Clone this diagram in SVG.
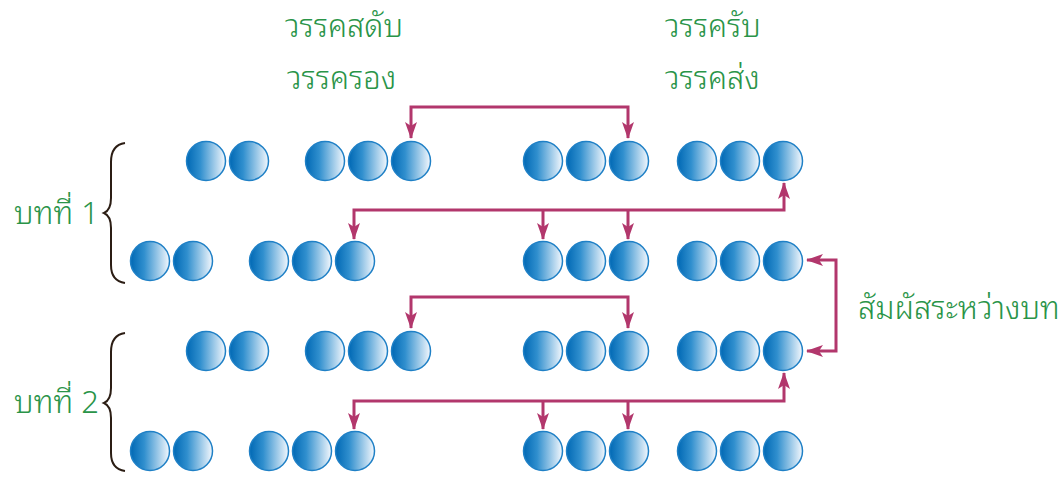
<svg xmlns="http://www.w3.org/2000/svg" width="1063" height="481" viewBox="0 0 1063 481">
<style>
.lbl{font-family:"Noto Sans Thai Looped","Noto Sans Thai","Noto Sans","DejaVu Sans",sans-serif;font-size:31px;font-weight:300;fill:#2a9448}
.ball{fill:url(#bg);stroke:#1f80c6;stroke-width:1.5}
.conn{fill:none;stroke:#b2376c;stroke-width:3}
.brace{fill:none;stroke:#2b1d14;stroke-width:2}
</style>
<defs>
<linearGradient id="bg" x1="0" y1="0" x2="1" y2="0">
<stop offset="0" stop-color="#0068b4"/>
<stop offset="0.35" stop-color="#308fce"/>
<stop offset="1" stop-color="#f4f8fd"/>
</linearGradient>
<marker id="ah" markerUnits="userSpaceOnUse" markerWidth="18" markerHeight="14" viewBox="0 0 18 14" refX="16" refY="7" orient="auto-start-reverse">
<path d="M0,1 L17,7 L0,13 L4,7 Z" fill="#b2376c"/>
</marker>
<g id="b2"><circle class="ball" cx="0" cy="0" r="19.5"/><circle class="ball" cx="43" cy="0" r="19.5"/></g>
<g id="b3"><circle class="ball" cx="0" cy="0" r="19.5"/><circle class="ball" cx="43" cy="0" r="19.5"/><circle class="ball" cx="86" cy="0" r="19.5"/></g>
</defs>
<rect width="1063" height="481" fill="#ffffff"/>
<g id="labels">
<text class="lbl" x="285" y="37">วรรคสดับ</text>
<text class="lbl" x="287" y="89">วรรครอง</text>
<text class="lbl" x="665" y="37">วรรครับ</text>
<text class="lbl" x="665" y="89">วรรคส่ง</text>
<text class="lbl" x="14" y="224">บทที่ 1</text>
<text class="lbl" x="14" y="413">บทที่ 2</text>
<text class="lbl" x="858" y="319">สัมผัสระหว่างบท</text>
</g>
<g id="braces">
<path class="brace" d="M125,143 Q111,145 111,162 V198 Q111,210 104,213 Q111,216 111,228 V265 Q111,281 125,283"/>
<path class="brace" d="M125,333 Q111,335 111,352 V388 Q111,400 104,403 Q111,406 111,418 V453 Q111,469 125,471"/>
</g>
<g id="row1">
<use href="#b2" x="206" y="161"/>
<use href="#b3" x="325" y="161"/>
<use href="#b3" x="543" y="161"/>
<use href="#b3" x="697" y="161"/>
</g>
<g id="row2">
<use href="#b2" x="150" y="261"/>
<use href="#b3" x="269" y="261"/>
<use href="#b3" x="543" y="261"/>
<use href="#b3" x="697" y="261"/>
</g>
<g id="row3">
<use href="#b2" x="206" y="351"/>
<use href="#b3" x="325" y="351"/>
<use href="#b3" x="543" y="351"/>
<use href="#b3" x="697" y="351"/>
</g>
<g id="row4">
<use href="#b2" x="150" y="451"/>
<use href="#b3" x="269" y="451"/>
<use href="#b3" x="543" y="451"/>
<use href="#b3" x="697" y="451"/>
</g>
<g id="connectors">
<path class="conn" d="M411,138 V107 H628 V138" marker-start="url(#ah)" marker-end="url(#ah)"/>
<path class="conn" d="M354,239 V210 H784 V183" marker-start="url(#ah)" marker-end="url(#ah)"/>
<path class="conn" d="M543,210 V239" marker-end="url(#ah)"/>
<path class="conn" d="M628,210 V239" marker-end="url(#ah)"/>
<path class="conn" d="M807,260 H836 V351 H807" marker-start="url(#ah)" marker-end="url(#ah)"/>
<path class="conn" d="M411,328 V297 H628 V328" marker-start="url(#ah)" marker-end="url(#ah)"/>
<path class="conn" d="M354,429 V401 H784 V373" marker-start="url(#ah)" marker-end="url(#ah)"/>
<path class="conn" d="M543,401 V429" marker-end="url(#ah)"/>
<path class="conn" d="M628,401 V429" marker-end="url(#ah)"/>
</g>
</svg>
